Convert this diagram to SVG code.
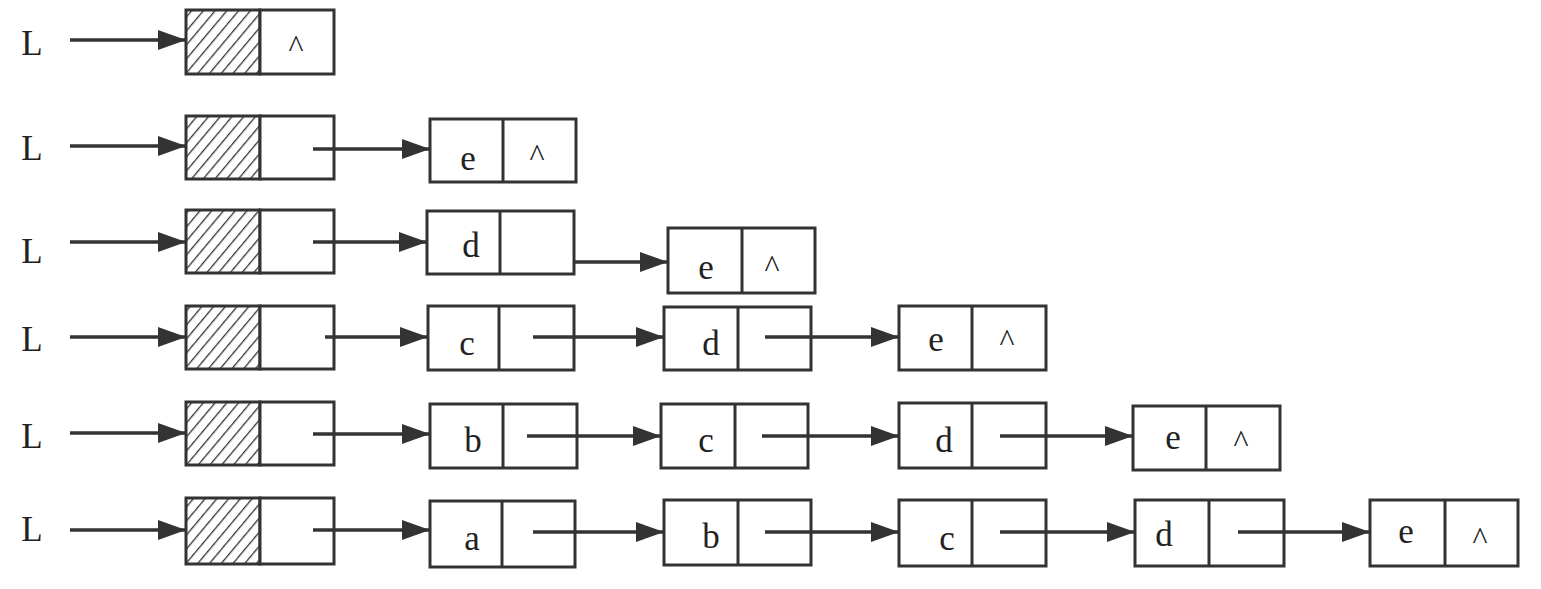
<svg xmlns="http://www.w3.org/2000/svg" width="1541" height="589" viewBox="0 0 1541 589">
<style>
.box{fill:#fff;stroke:#333;stroke-width:3}
.div{stroke:#333;stroke-width:3}
.hat{fill:url(#hatch);stroke:#333;stroke-width:3}
.t{font-family:"Liberation Serif","Times New Roman",serif;font-size:35px;fill:#222;text-anchor:middle}
.n{font-family:"Liberation Serif","Times New Roman",serif;font-size:32px;fill:#222;text-anchor:middle}
.c{stroke:#333;stroke-width:3.5;fill:none;marker-end:url(#ah)}
</style>
<defs>
<pattern id="hatch" patternUnits="userSpaceOnUse" width="9" height="9" patternTransform="rotate(40)">
<rect width="9" height="9" fill="#fff"/>
<line x1="0" y1="0" x2="0" y2="9" stroke="#333" stroke-width="2.6"/>
</pattern>
<marker id="ah" markerWidth="28" markerHeight="20" refX="28" refY="10" orient="auto" markerUnits="userSpaceOnUse">
<path d="M0,0 L28,10 L0,20 Z" fill="#333"/>
</marker>
</defs>
<rect width="1541" height="589" fill="#fff"/>

<!-- Row 1 -->
<g id="L1"><text class="t" x="32" y="55">L</text></g>
<g id="head1"><rect class="hat" x="186" y="10" width="74" height="64"/><rect class="box" x="260" y="10" width="74" height="64"/><text class="n" x="296" y="57">^</text></g>

<!-- Row 2 -->
<g id="L2"><text class="t" x="32" y="160">L</text></g>
<g id="head2"><rect class="hat" x="186" y="116" width="74" height="63"/><rect class="box" x="260" y="116" width="74" height="63"/></g>
<g id="r2e"><rect class="box" x="430" y="119" width="146" height="63"/><line class="div" x1="503" y1="119" x2="503" y2="182"/><text class="t" x="468" y="170">e</text><text class="n" x="537" y="166">^</text></g>

<!-- Row 3 -->
<g id="L3"><text class="t" x="32" y="263">L</text></g>
<g id="head3"><rect class="hat" x="186" y="210" width="74" height="63"/><rect class="box" x="260" y="210" width="74" height="63"/></g>
<g id="r3d"><rect class="box" x="427" y="211" width="147" height="63"/><line class="div" x1="500" y1="211" x2="500" y2="274"/><text class="t" x="471" y="257">d</text></g>
<g id="r3e"><rect class="box" x="668" y="228" width="147" height="65"/><line class="div" x1="742" y1="228" x2="742" y2="293"/><text class="t" x="706" y="279">e</text><text class="n" x="772" y="277">^</text></g>

<!-- Row 4 -->
<g id="L4"><text class="t" x="32" y="351">L</text></g>
<g id="head4"><rect class="hat" x="186" y="306" width="74" height="63"/><rect class="box" x="260" y="306" width="74" height="63"/></g>
<g id="r4c"><rect class="box" x="428" y="306" width="146" height="64"/><line class="div" x1="499" y1="306" x2="499" y2="370"/><text class="t" x="467" y="355">c</text></g>
<g id="r4d"><rect class="box" x="664" y="307" width="147" height="63"/><line class="div" x1="738" y1="307" x2="738" y2="370"/><text class="t" x="711" y="355">d</text></g>
<g id="r4e"><rect class="box" x="899" y="306" width="147" height="64"/><line class="div" x1="972" y1="306" x2="972" y2="370"/><text class="t" x="936" y="351">e</text><text class="n" x="1007" y="351">^</text></g>

<!-- Row 5 -->
<g id="L5"><text class="t" x="32" y="448">L</text></g>
<g id="head5"><rect class="hat" x="186" y="402" width="74" height="63"/><rect class="box" x="260" y="402" width="74" height="63"/></g>
<g id="r5b"><rect class="box" x="430" y="404" width="147" height="64"/><line class="div" x1="503" y1="404" x2="503" y2="468"/><text class="t" x="473" y="452">b</text></g>
<g id="r5c"><rect class="box" x="661" y="404" width="147" height="64"/><line class="div" x1="735" y1="404" x2="735" y2="468"/><text class="t" x="706" y="452">c</text></g>
<g id="r5d"><rect class="box" x="899" y="403" width="147" height="65"/><line class="div" x1="972" y1="403" x2="972" y2="468"/><text class="t" x="944" y="452">d</text></g>
<g id="r5e"><rect class="box" x="1133" y="406" width="147" height="64"/><line class="div" x1="1206" y1="406" x2="1206" y2="470"/><text class="t" x="1173" y="449">e</text><text class="n" x="1241" y="452">^</text></g>

<!-- Row 6 -->
<g id="L6"><text class="t" x="32" y="541">L</text></g>
<g id="head6"><rect class="hat" x="186" y="498" width="74" height="66"/><rect class="box" x="260" y="498" width="74" height="66"/></g>
<g id="r6a"><rect class="box" x="430" y="501" width="145" height="66"/><line class="div" x1="502" y1="501" x2="502" y2="567"/><text class="t" x="472" y="550">a</text></g>
<g id="r6b"><rect class="box" x="664" y="500" width="147" height="65"/><line class="div" x1="738" y1="500" x2="738" y2="565"/><text class="t" x="711" y="548">b</text></g>
<g id="r6c"><rect class="box" x="899" y="500" width="147" height="66"/><line class="div" x1="972" y1="500" x2="972" y2="566"/><text class="t" x="947" y="550">c</text></g>
<g id="r6d"><rect class="box" x="1135" y="500" width="149" height="66"/><line class="div" x1="1209" y1="500" x2="1209" y2="566"/><text class="t" x="1164" y="546">d</text></g>
<g id="r6e"><rect class="box" x="1370" y="500" width="148" height="66"/><line class="div" x1="1445" y1="500" x2="1445" y2="566"/><text class="t" x="1406" y="543">e</text><text class="n" x="1480" y="549">^</text></g>

<g id="connectors">
<path class="c" d="M70,40 H186"/>
<path class="c" d="M70,146 H186"/>
<path class="c" d="M313,149 H430"/>
<path class="c" d="M70,242 H186"/>
<path class="c" d="M313,242 H427"/>
<path class="c" d="M574,262 H668"/>
<path class="c" d="M70,337 H186"/>
<path class="c" d="M325,337 H428"/>
<path class="c" d="M533,337 H664"/>
<path class="c" d="M765,337 H899"/>
<path class="c" d="M70,433 H186"/>
<path class="c" d="M313,434 H430"/>
<path class="c" d="M527,436 H661"/>
<path class="c" d="M762,436 H899"/>
<path class="c" d="M1000,436 H1133"/>
<path class="c" d="M70,530 H186"/>
<path class="c" d="M313,530 H430"/>
<path class="c" d="M533,532 H664"/>
<path class="c" d="M765,532 H899"/>
<path class="c" d="M1000,532 H1135"/>
<path class="c" d="M1238,532 H1370"/>
</g>
</svg>
